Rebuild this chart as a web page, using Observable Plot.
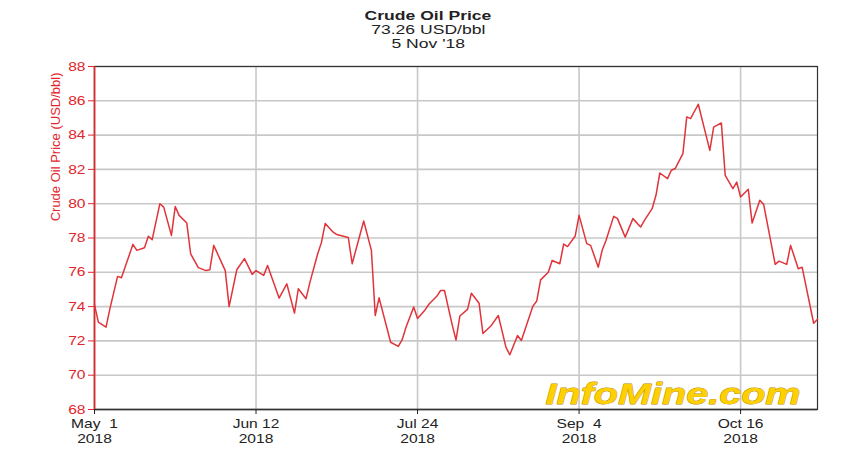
<!DOCTYPE html>
<html>
<head>
<meta charset="utf-8">
<script src="https://cdn.jsdelivr.net/npm/d3@7"></script>
<script src="https://cdn.jsdelivr.net/npm/@observablehq/plot@0.6"></script>
<style>
  body { margin: 0; background: #fff; font-family: "Liberation Sans", Arial, sans-serif; }
  #wrap { position: relative; width: 856px; height: 455px; overflow: hidden; }
  #title { position: absolute; top: 9px; left: 0; width: 856px; text-align: center; color: #222; font-size: 13px; line-height: 14px; }
  #title div span { display: inline-block; transform: scaleX(1.35); }
  #title .t1 span { font-weight: bold; }
  #chart { position: absolute; top: 58px; left: 0; }
</style>
</head>
<body>
<div id="wrap">
  <div id="title"></div>
  <div id="chart"></div>
</div>
<script>
// ---- data ----
const titleText = "Crude Oil Price";
const subtitleText = "73.26 USD/bbl";
const dateText = "5 Nov '18";
const yLabelText = "Crude Oil Price (USD/bbl)";
const watermarkText = "InfoMine.com";

const dates = [
  "2018-05-01","2018-05-02","2018-05-04","2018-05-05","2018-05-07","2018-05-08","2018-05-11","2018-05-12",
  "2018-05-14","2018-05-15","2018-05-16","2018-05-18","2018-05-19","2018-05-21","2018-05-22","2018-05-23",
  "2018-05-25","2018-05-26","2018-05-28","2018-05-30","2018-05-31","2018-06-01","2018-06-04","2018-06-05",
  "2018-06-07","2018-06-09","2018-06-11","2018-06-12","2018-06-14","2018-06-15","2018-06-18","2018-06-20",
  "2018-06-22","2018-06-23","2018-06-25","2018-06-26","2018-06-28","2018-06-29","2018-06-30","2018-07-02",
  "2018-07-03","2018-07-06","2018-07-07","2018-07-10","2018-07-12","2018-07-13","2018-07-14","2018-07-17",
  "2018-07-19","2018-07-20","2018-07-21","2018-07-23","2018-07-24","2018-07-26","2018-07-27","2018-07-29",
  "2018-07-30","2018-07-31","2018-08-02","2018-08-03","2018-08-04","2018-08-06","2018-08-07","2018-08-09",
  "2018-08-10","2018-08-12","2018-08-14","2018-08-16","2018-08-17","2018-08-19","2018-08-20","2018-08-21",
  "2018-08-23","2018-08-24","2018-08-25","2018-08-27","2018-08-28","2018-08-30","2018-08-31","2018-09-01",
  "2018-09-03","2018-09-04","2018-09-06","2018-09-07","2018-09-09","2018-09-10","2018-09-11","2018-09-13",
  "2018-09-14","2018-09-16","2018-09-18","2018-09-20","2018-09-21","2018-09-23","2018-09-24","2018-09-25",
  "2018-09-27","2018-09-28","2018-09-29","2018-10-01","2018-10-02","2018-10-03","2018-10-05","2018-10-08",
  "2018-10-09","2018-10-11","2018-10-12","2018-10-14","2018-10-15","2018-10-16","2018-10-18","2018-10-19",
  "2018-10-21","2018-10-22","2018-10-25","2018-10-26","2018-10-28","2018-10-29","2018-10-31","2018-11-01",
  "2018-11-04","2018-11-05"
];
const prices = [
  74.12,73.09,72.80,73.87,75.76,75.68,77.63,77.28,
  77.43,78.10,77.90,80.00,79.80,78.15,79.84,79.32,
  78.87,77.08,76.27,76.10,76.15,77.57,76.10,74.00,
  76.15,76.80,75.88,76.10,75.82,76.40,74.50,75.33,
  73.62,75.04,74.46,75.40,77.05,77.73,78.85,78.35,
  78.20,78.03,76.50,78.99,77.28,73.48,74.51,71.92,
  71.68,72.07,72.80,73.97,73.31,73.82,74.15,74.60,
  74.94,74.94,72.95,72.05,73.45,73.84,74.78,74.20,
  72.43,72.85,73.48,71.62,71.19,72.31,72.02,72.70,
  74.03,74.33,75.56,76.00,76.69,76.50,77.65,77.50,
  78.12,79.32,77.67,77.57,76.30,77.28,77.86,79.26,
  79.13,78.05,79.13,78.64,79.03,79.71,80.49,81.79,
  81.46,81.95,82.05,82.92,85.06,84.96,85.80,83.11,
  84.47,84.71,81.65,80.88,81.26,80.39,80.84,78.87,
  80.20,79.96,76.46,76.65,76.46,77.57,76.21,76.30,
  73.03,73.26
];
const xTickDates = ["2018-05-01","2018-06-12","2018-07-24","2018-09-04","2018-10-16"];
const xDomainDates = ["2018-05-01","2018-11-05"];
const yTicks = [68,70,72,74,76,78,80,82,84,86,88];
const yDomain = [68, 88];

// ---- build ----
const titleEl = document.getElementById("title");
[[titleText,"t1"],[subtitleText,"t2"],[dateText,"t3"]].forEach(([t,c]) => {
  const d = document.createElement("div"); d.className = c;
  const s = document.createElement("span"); s.textContent = t;
  d.appendChild(s); titleEl.appendChild(d);
});

const red = "#e3262c";
const data = dates.map((d, i) => ({date: new Date(d), price: prices[i]}));
const xTicks = xTickDates.map(d => new Date(d));
const xDomain = xDomainDates.map(d => new Date(d));

const chart = Plot.plot({
  width: 856,
  height: 397,
  marginTop: 8,
  marginBottom: 46,
  marginLeft: 94,
  marginRight: 39,
  style: {fontFamily: "'Liberation Sans', Arial, sans-serif", fontSize: "13px", background: "#fff", overflow: "visible"},
  x: {type: "utc", domain: xDomain},
  y: {domain: yDomain},
  marks: [
    Plot.gridY({ticks: yTicks, stroke: "#c8c8c8", strokeOpacity: 1, strokeWidth: 1.6}),
    Plot.gridX({ticks: xTicks, stroke: "#c8c8c8", strokeOpacity: 1, strokeWidth: 1.6}),
    Plot.text([watermarkText], {
      frameAnchor: "bottom-right", dx: -17, dy: -6, textAnchor: "end", lineAnchor: "bottom",
      fontSize: 30, fontWeight: "bold", fontStyle: "italic",
      fill: "#ffd000", stroke: "#b88a00", strokeWidth: 0.8
    }),
    Plot.frame({stroke: "#333", strokeWidth: 1.2}),
    Plot.ruleY([yDomain[0]], {stroke: "#333", strokeWidth: 1.6}),
    Plot.ruleX([xDomain[0]], {stroke: red, strokeWidth: 1.6}),
    Plot.axisY({ticks: yTicks, tickSize: 6, tickPadding: 3, color: red, fontSize: 13, label: null, tickFormat: d => String(d)}),
    Plot.axisX({ticks: xTicks, tickSize: 5, tickPadding: 3, color: "#222", fontSize: 13, lineHeight: 1.15, label: null, tickFormat: d3.utcFormat("%b %e\n%Y")}),
    Plot.text([yLabelText], {frameAnchor: "top-left", rotate: -90, textAnchor: "end", dx: -44, dy: 6, fill: red, fontSize: 13}),
    Plot.lineY(data, {x: "date", y: "price", stroke: "#e0343a", strokeWidth: 1.5})
  ]
});
document.getElementById("chart").appendChild(chart);

// horizontal stretch of tick labels to mimic the reference's wide lettering
function stretch(t, s) {
  const tr = t.getAttribute("transform") || "";
  const x = +t.getAttribute("x") || 0, y = +t.getAttribute("y") || 0;
  t.setAttribute("transform", `${tr} translate(${x},${y}) scale(${s},1) translate(${-x},${-y})`);
}
chart.querySelectorAll('g[aria-label="x-axis tick label"] text, g[aria-label="y-axis tick label"] text')
  .forEach(t => stretch(t, 1.2));
chart.querySelectorAll("text").forEach(t => {
  if (t.textContent === watermarkText) {
    t.setAttribute("textLength", "255");
    t.setAttribute("lengthAdjust", "spacingAndGlyphs");
  }
});
</script>
</body>
</html>
